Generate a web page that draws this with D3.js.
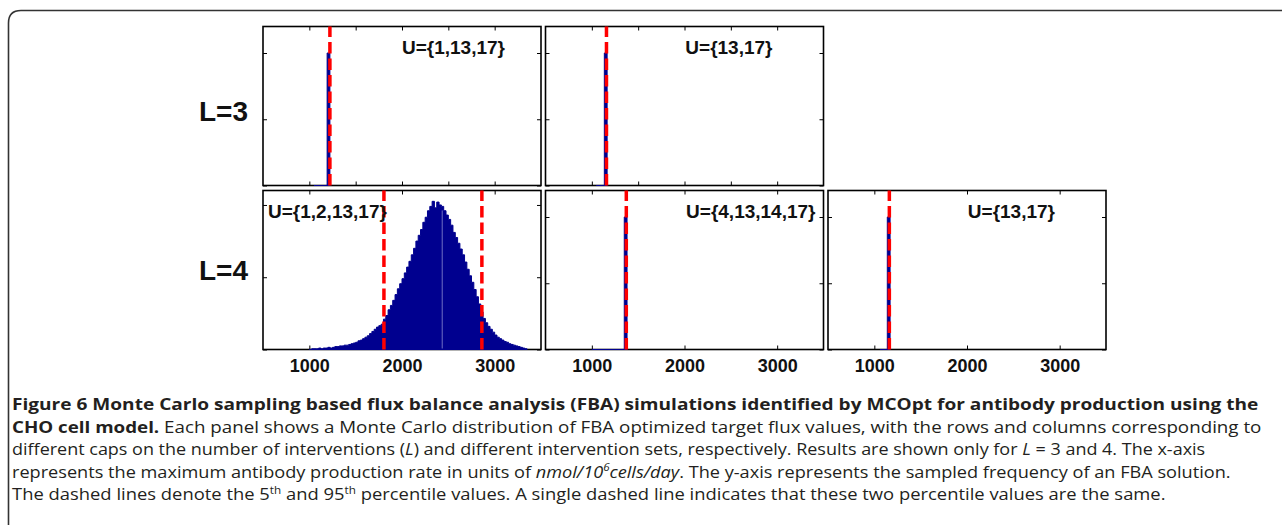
<!DOCTYPE html>
<html><head><meta charset="utf-8">
<script src="https://cdn.jsdelivr.net/npm/d3@7"></script>
<style>html,body{margin:0;padding:0;background:#fff;} svg{display:block;}</style>
</head><body><svg id="chart" width="1282" height="525"></svg>
<script>
// ---------------- data ----------------
const rowLabels = ["L=3", "L=4"];
const panelNames = ["U={1,13,17}", "U={13,17}", "U={1,2,13,17}", "U={4,13,14,17}", "U={13,17}"];
const panelRow = [0, 0, 1, 1, 1];
const panelCol = [0, 1, 0, 1, 2];
const xDomain = [500, 3500];
const xTicksRow1 = [1000, 1500, 2000, 2500, 3000];
const xTicksRow2 = [1000, 2000, 3000];
const xTickLabels = ["1000", "2000", "3000"];
const yMax = [12000, 12000, 220, 12000, 12000];
const yTicksSpike = [0, 5000, 10000];
const yTicksWide = [0, 100, 200];

// histogram bins [start, end, count] for the single-value panels
const binsA = [[1050, 1192, 0], [1192, 1222, 10000]];
const binsB = [[1050, 1135, 0], [1135, 1165, 10000]];
const binsD = [[1000, 1350, 0], [1350, 1380, 10000]];
const binsE = [[1061, 1140, 0], [1140, 1170, 10000]];
// wide histogram (panel U={1,2,13,17}), bins of 25 starting at 1000
const binStartC = 1000;
const binWidthC = 25;
const countsC = [0,1,1,1,2,1,2,2,3,2,3,4,4,5,5,6,6,7,8,9,10,12,13,15,17,19,22,25,28,31,33,35,
  42,47,55,61,68,76,84,91,98,106,114,122,131,140,150,158,166,176,183,192,198,205,196,204,200,198,
  192,186,180,172,162,155,147,139,131,121,111,102,93,83,73,63,52,43,37,32,28,24,20,17,15,13,11,10,
  8,7,6,5,4,3,2,1];
const gapLineC = 2434;
// 5th / 95th percentiles
const pctA = [1222];
const pctB = [1158];
const pctC = [1805, 2862];
const pctD = [1372];
const pctE = [1162];

const captionLines = [
  [["b", "Figure 6 Monte Carlo sampling based flux balance analysis (FBA) simulations identified by MCOpt for antibody production using the"]],
  [["b", "CHO cell model."], ["n", " Each panel shows a Monte Carlo distribution of FBA optimized target flux values, with the rows and columns corresponding to"]],
  [["n", "different caps on the number of interventions ("], ["i", "L"], ["n", ") and different intervention sets, respectively. Results are shown only for "], ["i", "L"], ["n", " = 3 and 4. The x-axis"]],
  [["n", "represents the maximum antibody production rate in units of "], ["i", "nmol/10"], ["is", "6"], ["i", "cells/day"], ["n", ". The y-axis represents the sampled frequency of an FBA solution."]],
  [["n", "The dashed lines denote the 5"], ["s", "th"], ["n", " and 95"], ["s", "th"], ["n", " percentile values. A single dashed line indicates that these two percentile values are the same."]]
];

// ---------------- layout ----------------
const colX = [263, 545.5, 828];
const rowY = [26.5, 190.5];
const PW = 278, PH = 159;
const NAVY = "#00008f";
const RED = "#ff0000";
const SANS = "'Liberation Sans', Arial, Helvetica, sans-serif";

const binsC = countsC.map((c, i) => [binStartC + i * binWidthC, binStartC + (i + 1) * binWidthC, c]);
const allBins = [binsA, binsB, binsC, binsD, binsE];
const allPct = [pctA, pctB, pctC, pctD, pctE];

const svg = d3.select("#chart");
svg.append("rect").attr("width", 1282).attr("height", 525).attr("fill", "#fff");

// outer frame
svg.append("path")
  .attr("d", "M8.5,525 L8.5,23 Q8.5,10.5 21,10.5 L1282,10.5")
  .attr("fill", "none").attr("stroke", "#333").attr("stroke-width", 1.6);

// row labels
const rowBase = [121, 280];
rowLabels.forEach((t, r) => {
  svg.append("text").text(t)
    .attr("x", 248).attr("y", rowBase[r])
    .attr("text-anchor", "end")
    .attr("font-family", SANS)
    .attr("font-weight", "bold").attr("font-size", 28).attr("fill", "#111");
});

panelNames.forEach((name, p) => {
  const x0 = colX[panelCol[p]], y0 = rowY[panelRow[p]];
  const x = d3.scaleLinear().domain(xDomain).range([x0, x0 + PW]);
  const y = d3.scaleLinear().domain([0, yMax[p]]).range([y0 + PH, y0]);
  const g = svg.append("g");
  const xt = panelRow[p] === 0 ? xTicksRow1 : xTicksRow2;
  const yt = yMax[p] > 1000 ? yTicksSpike : yTicksWide;

  const clean = sel => { sel.select(".domain").remove(); sel.selectAll(".tick line").attr("stroke", "#000").attr("stroke-width", 1); };
  g.append("g").attr("transform", `translate(0,${y0 + PH})`)
    .call(d3.axisBottom(x).tickValues(xt).tickSize(-4).tickFormat("")).call(clean);
  g.append("g").attr("transform", `translate(0,${y0})`)
    .call(d3.axisTop(x).tickValues(xt).tickSize(-4).tickFormat("")).call(clean);
  g.append("g").attr("transform", `translate(${x0},0)`)
    .call(d3.axisLeft(y).tickValues(yt).tickSize(-4).tickFormat("")).call(clean);
  g.append("g").attr("transform", `translate(${x0 + PW},0)`)
    .call(d3.axisRight(y).tickValues(yt).tickSize(-4).tickFormat("")).call(clean);

  // box
  g.append("rect").attr("x", x0).attr("y", y0).attr("width", PW).attr("height", PH)
    .attr("fill", "none").attr("stroke", "#000").attr("stroke-width", 1.6);

  // histogram
  const bins = allBins[p];
  let d = `M${x(bins[0][0])},${y(0)}`;
  bins.forEach(([a, b, c]) => { d += `L${x(a)},${y(c)}L${x(b)},${y(c)}`; });
  d += `L${x(bins[bins.length - 1][1])},${y(0)}Z`;
  g.append("path").attr("d", d).attr("fill", NAVY).attr("stroke", NAVY).attr("stroke-width", 1)
    .attr("stroke-linejoin", "miter");

  if (p === 2) {
    const bi = Math.floor((gapLineC - binStartC) / binWidthC);
    g.append("line").attr("x1", x(gapLineC)).attr("x2", x(gapLineC))
      .attr("y1", y(0) - 1).attr("y2", y(countsC[bi]) + 4)
      .attr("stroke", "#8c8cd0").attr("stroke-width", 0.8);
  }

  // percentile dashed lines
  allPct[p].forEach(v => {
    g.append("line").attr("x1", x(v)).attr("x2", x(v))
      .attr("y1", y0 + PH).attr("y2", y0)
      .attr("stroke", RED).attr("stroke-width", 3.5)
      .attr("stroke-dasharray", "11.5,5");
  });

  // panel label
  const lab = g.append("text").text(name)
    .attr("font-family", SANS)
    .attr("font-weight", "bold").attr("font-size", 19).attr("fill", "#111")
    .attr("y", y0 + 27);
  if (p === 2) lab.attr("x", x0 + 5).attr("text-anchor", "start");
  else {
    const rightGap = [36, 51, 0, 8, 51][p];
    lab.attr("x", x0 + PW - rightGap).attr("text-anchor", "end");
  }

  // tick labels below the lower row
  if (panelRow[p] === 1) {
    const ax = svg.append("g").attr("transform", `translate(0,${y0 + PH})`)
      .call(d3.axisBottom(x).tickValues(xTicksRow2).tickSize(0).tickPadding(10)
        .tickFormat((v, i) => xTickLabels[i]));
    ax.select(".domain").remove();
    ax.selectAll("text").attr("font-family", SANS)
      .attr("font-weight", "bold").attr("font-size", 18).attr("fill", "#111");
  }
});

// caption
const capRight = [1259, 1263, 1206, 1232, 1166];
const capBase = [410, 432.5, 455, 477.5, 500];
captionLines.forEach((segs, li) => {
  const t = svg.append("text")
    .attr("font-family", "'Open Sans', 'Noto Sans', sans-serif")
    .attr("font-size", 16.5).attr("fill", "#231f20")
    .attr("transform", `translate(12,${capBase[li]})`);
  let raised = false;
  segs.forEach(([k, s]) => {
    const ts = t.append("tspan").text(s);
    if (k === "b") ts.attr("font-weight", "bold");
    if (k === "i" || k === "is") ts.attr("font-style", "italic");
    if (k === "s" || k === "is") {
      ts.attr("font-size", 10.5).attr("dy", -6.5);
      raised = true;
    } else if (raised) {
      ts.attr("dy", 6.5);
      raised = false;
    }
  });
  const w = t.node().getBBox().width;
  const s = (capRight[li] - 12) / w;
  t.attr("transform", `translate(12,${capBase[li]}) scale(${s},1)`);
});
</script>
</body></html>
